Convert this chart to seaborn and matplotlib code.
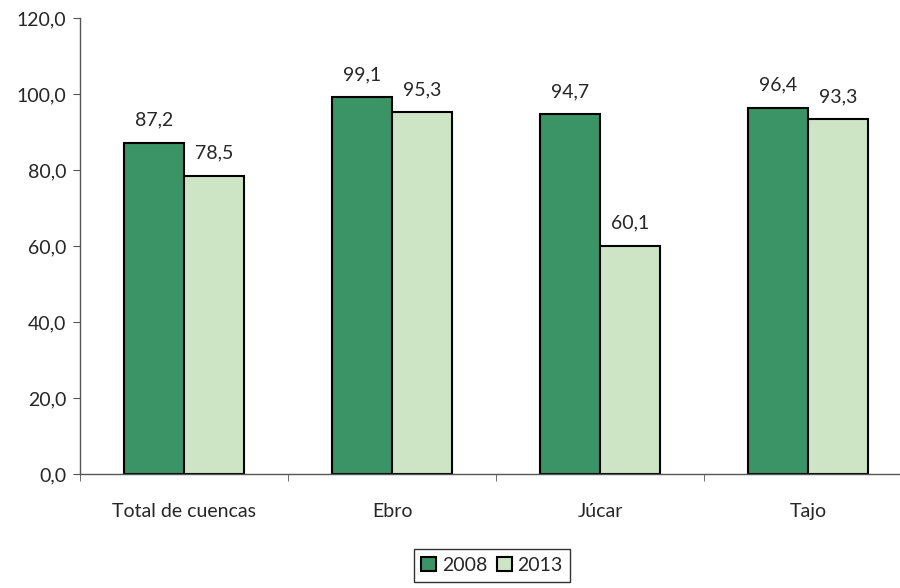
import matplotlib
matplotlib.use("Agg")
import matplotlib.pyplot as plt
import seaborn as sns
import pandas as pd
from matplotlib.ticker import FixedLocator, FuncFormatter

# datos
cuencas = ["Total de cuencas", "Ebro", "Júcar", "Tajo"]
anios = ["2008", "2013"]
valores_2008 = [87.2, 99.1, 94.7, 96.4]
valores_2013 = [78.5, 95.3, 60.1, 93.3]
colores = ["#3A9466", "#CDE5C5"]

df = pd.DataFrame({
    "cuenca": cuencas * 2,
    "anio": [anios[0]] * 4 + [anios[1]] * 4,
    "valor": valores_2008 + valores_2013,
})

sns.set_style("white")
plt.rcParams["font.family"] = ["Lato", "DejaVu Sans"]
fs = 14

fig = plt.figure(figsize=(9, 5.88), dpi=100)
ax = fig.add_axes([80 / 900, 1 - 474 / 588, 832 / 900, 456 / 588])

sns.barplot(data=df, x="cuenca", y="valor", hue="anio", palette=colores,
            saturation=1, width=0.577, edgecolor="black", linewidth=1.5,
            ax=ax, legend=True)

for cont in ax.containers:
    ax.bar_label(cont, labels=[f"{v:.1f}".replace(".", ",") for v in cont.datavalues],
                 padding=10, fontsize=fs)

ax.set_xlim(-0.5, 3.5)
ax.set_ylim(0, 120)
ax.set_yticks(range(0, 121, 20))
ax.yaxis.set_major_formatter(FuncFormatter(lambda v, p: f"{v:.1f}".replace(".", ",")))
ax.xaxis.set_minor_locator(FixedLocator([-0.5, 0.5, 1.5, 2.5, 3.5]))
ax.tick_params(axis="x", which="major", length=0, pad=21, labelsize=fs)
ax.tick_params(axis="x", which="minor", length=5, color="#555555", bottom=True)
ax.tick_params(axis="y", length=5, color="#555555", labelsize=fs, left=True, pad=5)
ax.set_xlabel("")
ax.set_ylabel("")
for s in ["top", "right"]:
    ax.spines[s].set_visible(False)
for s in ["left", "bottom"]:
    ax.spines[s].set_color("#555555")
    ax.spines[s].set_linewidth(1)

handles, labels = ax.get_legend_handles_labels()
ax.get_legend().remove()
leg = fig.legend(handles, labels, loc="upper center", bbox_to_anchor=(492 / 900, 1 - 549 / 588),
                 ncol=2, frameon=True, fancybox=False, edgecolor="black",
                 fontsize=fs, handlelength=0.75, handleheight=0.75, handletextpad=0.3,
                 columnspacing=0.5, borderpad=0.4, borderaxespad=0)
leg.get_frame().set_linewidth(1)

fig.savefig("out.png", dpi=100)
